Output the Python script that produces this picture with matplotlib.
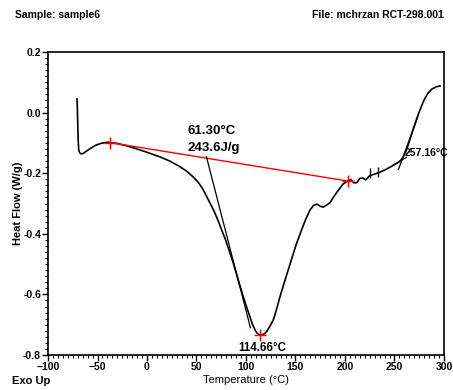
import matplotlib
matplotlib.use("Agg")
import matplotlib.pyplot as plt
from matplotlib.ticker import MultipleLocator, FormatStrFormatter

plt.rcParams["font.family"] = ["Liberation Sans Narrow", "Liberation Sans", "DejaVu Sans"]
plt.rcParams["font.weight"] = "bold"

# DSC trace
temp = [-70.7, -70.4, -70.1, -69.8, -69.4, -68.9, -68.0, -66.5, -64.5, -62.0,
        -57.0, -52.0, -46.0, -40.0, -37.4, -30.0, -20.0, -10.0, 0.0, 13.0,
        23.0, 33.0, 40.0, 46.5, 51.0, 55.0, 58.5, 62.0, 65.5, 68.7,
        72.0, 75.4, 78.8, 83.0, 87.2, 92.0, 97.3, 101.0, 104.0, 106.5,
        109.1, 111.5, 114.1, 117.0, 119.0, 121.0, 124.0, 127.6, 131.0, 134.3,
        138.5, 142.7, 147.0, 151.2, 156.2, 160.0, 164.6, 168.0, 171.7, 175.0,
        178.0, 182.0, 185.0, 188.0, 192.0, 198.0, 203.0, 206.0, 209.0, 212.0,
        215.0, 218.0, 221.0, 225.0, 230.0, 235.0, 240.0, 245.0, 250.0, 255.0,
        258.6, 262.0, 265.5, 268.7, 272.0, 275.8, 280.0, 284.0, 288.0, 292.0,
        296.0]
heat_flow = [0.045, 0.02, -0.02, -0.06, -0.1, -0.124, -0.133, -0.136, -0.135, -0.129,
             -0.118, -0.108, -0.101, -0.098, -0.099, -0.102, -0.110, -0.120, -0.131, -0.146,
             -0.160, -0.178, -0.193, -0.212, -0.227, -0.245, -0.265, -0.288, -0.310, -0.332,
             -0.358, -0.387, -0.415, -0.455, -0.497, -0.550, -0.608, -0.645, -0.674, -0.698,
             -0.717, -0.729, -0.734, -0.733, -0.729, -0.722, -0.706, -0.684, -0.648, -0.608,
             -0.563, -0.519, -0.474, -0.431, -0.387, -0.355, -0.322, -0.307, -0.302, -0.309,
             -0.312, -0.304, -0.297, -0.281, -0.262, -0.236, -0.225, -0.221, -0.232, -0.231,
             -0.217, -0.216, -0.222, -0.208, -0.203, -0.197, -0.190, -0.181, -0.172, -0.162,
             -0.148, -0.125, -0.090, -0.057, -0.025, 0.009, 0.042, 0.065, 0.078, 0.085,
             0.088]

# integration baseline and peak
base_t = [-37.4, 203.0]
base_hf = [-0.099, -0.226]
peak_t = 114.66
peak_hf = -0.735

# onset tangents
onset1_t = [60.0, 104.5]
onset1_hf = [-0.145, -0.710]
onset2_base_t = [249.0, 262.0]
onset2_base_hf = [-0.173, -0.148]
onset2_tan_t = [254.0, 273.5]
onset2_tan_hf = [-0.188, -0.015]
tick_t = [225.0, 233.0]
tick_hf = [-0.200, -0.195]

fig = plt.figure(figsize=(4.53, 3.9), dpi=100)
ax = fig.add_axes([0.106, 0.0897, 0.874, 0.777])

ax.plot(temp, heat_flow, color="black", lw=1.2)
ax.plot(base_t, base_hf, color="red", lw=1.0)
ax.plot(base_t, base_hf, ls="none", marker="+", color="red", ms=8, mew=1.0)
ax.plot([peak_t], [peak_hf], ls="none", marker="+", color="red", ms=8, mew=1.0)
ax.plot(onset1_t, onset1_hf, color="black", lw=0.9)
ax.plot(onset2_base_t, onset2_base_hf, color="black", lw=0.9)
ax.plot(onset2_tan_t, onset2_tan_hf, color="black", lw=0.9)
ax.plot(tick_t, tick_hf, ls="none", marker="|", color="black", ms=7, mew=1.0)

ax.text(41.0, -0.061, "61.30°C", fontsize=9.5, ha="left", va="center")
ax.text(41.0, -0.117, "243.6J/g", fontsize=9.5, ha="left", va="center")
ax.text(116.0, -0.777, "114.66°C", fontsize=8.3, ha="center", va="center")
ax.text(260.0, -0.133, "257.16°C", fontsize=7.5, ha="left", va="center")

ax.set_xlim(-100, 300)
ax.set_ylim(-0.8, 0.2)
ax.xaxis.set_major_locator(MultipleLocator(50))
ax.xaxis.set_minor_locator(MultipleLocator(5))
ax.yaxis.set_major_locator(MultipleLocator(0.2))
ax.yaxis.set_minor_locator(MultipleLocator(0.02))
ax.yaxis.set_major_formatter(FormatStrFormatter("%.1f"))
ax.tick_params(which="major", direction="out", length=4, width=1.0, labelsize=7.5, pad=1)
ax.tick_params(which="minor", direction="out", length=2, width=0.8)
for s in ax.spines.values():
    s.set_linewidth(1.2)

ax.set_xlabel("Temperature (°C)", fontsize=8, labelpad=2)

fig.text(0.040, 0.479, "Heat Flow (W/g)", fontsize=8, rotation=90, ha="center", va="center")
fig.text(0.033, 0.962, "Sample: sample6", fontsize=7.5, ha="left", va="center")
fig.text(0.980, 0.962, "File: mchrzan RCT-298.001", fontsize=7.5, ha="right", va="center")
fig.text(0.026, 0.023, "Exo Up", fontsize=8, ha="left", va="center")

fig.savefig("out.png", dpi=100)
